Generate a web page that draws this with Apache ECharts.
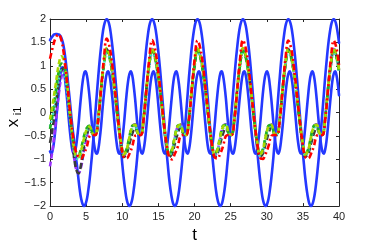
<!DOCTYPE html>
<html><head><meta charset="utf-8">
<script src="https://cdn.jsdelivr.net/npm/echarts@6/dist/echarts.min.js"></script>
<style>html,body{margin:0;padding:0;background:#fff}#c{width:374px;height:249px}</style>
</head><body><div id="c"></div>
<script>
// time samples (fine grid for the blue curves, coarse grid for the dashed curves)
const tFine = [0,0.2,0.39,0.59,0.79,0.98,1.18,1.37,1.57,1.77,1.96,2.16,2.36,2.55,2.75,2.95,3.14,3.34,3.53,3.73,3.93,4.12,4.32,4.52,4.71,4.91,5.11,5.3,5.5,5.69,5.89,6.09,
6.28,6.48,6.68,6.87,7.07,7.26,7.46,7.66,7.85,8.05,8.25,8.44,8.64,8.84,9.03,9.23,9.42,9.62,9.82,10.01,10.21,10.41,10.6,10.8,11,11.19,11.39,11.58,11.78,11.98,12.17,12.37,
12.57,12.76,12.96,13.16,13.35,13.55,13.74,13.94,14.14,14.33,14.53,14.73,14.92,15.12,15.32,15.51,15.71,15.9,16.1,16.3,16.49,16.69,16.89,17.08,17.28,17.48,17.67,17.87,18.06,18.26,18.46,18.65,
18.85,19.05,19.24,19.44,19.63,19.83,20.03,20.22,20.42,20.62,20.81,21.01,21.21,21.4,21.6,21.79,21.99,22.19,22.38,22.58,22.78,22.97,23.17,23.37,23.56,23.76,23.95,24.15,24.35,24.54,24.74,24.94,
25.13,25.33,25.53,25.72,25.92,26.11,26.31,26.51,26.7,26.9,27.1,27.29,27.49,27.69,27.88,28.08,28.27,28.47,28.67,28.86,29.06,29.26,29.45,29.65,29.85,30.04,30.24,30.43,30.63,30.83,31.02,31.22,
31.42,31.61,31.81,32.0,32.2,32.4,32.59,32.79,32.99,33.18,33.38,33.58,33.77,33.97,34.16,34.36,34.56,34.75,34.95,35.15,35.34,35.54,35.74,35.93,36.13,36.32,36.52,36.72,36.91,37.11,37.31,37.5,
37.7,37.9,38.09,38.29,38.48,38.68,38.88,39.07,39.27,39.47,39.66,39.86,40];

const tCoarse = [0,0.39,0.79,1.18,1.57,1.96,2.36,2.75,3.14,3.53,3.93,4.32,4.71,5.11,5.5,5.89,
6.28,6.68,7.07,7.46,7.85,8.25,8.64,9.03,9.42,9.82,10.21,10.6,11,11.39,11.78,12.17,
12.57,12.96,13.35,13.74,14.14,14.53,14.92,15.32,15.71,16.1,16.49,16.89,17.28,17.67,18.06,18.46,
18.85,19.24,19.63,20.03,20.42,20.81,21.21,21.6,21.99,22.38,22.78,23.17,23.56,23.95,24.35,24.74,
25.13,25.53,25.92,26.31,26.7,27.1,27.49,27.88,28.27,28.67,29.06,29.45,29.85,30.24,30.63,31.02,
31.42,31.81,32.2,32.59,32.99,33.38,33.77,34.16,34.56,34.95,35.34,35.74,36.13,36.52,36.91,37.31,
37.7,38.09,38.48,38.88,39.27,39.66,40];

// solid blue curves
const blueA = [1.55,1.6,1.64,1.67,1.68,1.68,1.67,1.65,1.6,1.5,1.35,1.12,0.85,0.55,0.25,-0.08,-0.36,-0.62,-0.88,-1.13,-1.41,-1.66,-1.85,-1.96,-2,-1.96,-1.85,-1.66,-1.41,-1.11,-0.77,-0.39,
0,0.39,0.77,1.11,1.41,1.66,1.85,1.96,2,1.96,1.85,1.66,1.41,1.11,0.77,0.39,0,-0.39,-0.77,-1.11,-1.41,-1.66,-1.85,-1.96,-2,-1.96,-1.85,-1.66,-1.41,-1.11,-0.77,-0.39,
0,0.39,0.77,1.11,1.41,1.66,1.85,1.96,2,1.96,1.85,1.66,1.41,1.11,0.77,0.39,0,-0.39,-0.77,-1.11,-1.41,-1.66,-1.85,-1.96,-2,-1.96,-1.85,-1.66,-1.41,-1.11,-0.77,-0.39,
0,0.39,0.77,1.11,1.41,1.66,1.85,1.96,2,1.96,1.85,1.66,1.41,1.11,0.77,0.39,0,-0.39,-0.77,-1.11,-1.41,-1.66,-1.85,-1.96,-2,-1.96,-1.85,-1.66,-1.41,-1.11,-0.77,-0.39,
0,0.39,0.77,1.11,1.41,1.66,1.85,1.96,2,1.96,1.85,1.66,1.41,1.11,0.77,0.39,0,-0.39,-0.77,-1.11,-1.41,-1.66,-1.85,-1.96,-2,-1.96,-1.85,-1.66,-1.41,-1.11,-0.77,-0.39,
0,0.39,0.77,1.11,1.41,1.66,1.85,1.96,2,1.96,1.85,1.66,1.41,1.11,0.77,0.39,0,-0.39,-0.77,-1.11,-1.41,-1.66,-1.85,-1.96,-2,-1.96,-1.85,-1.66,-1.41,-1.11,-0.77,-0.39,
0,0.39,0.77,1.11,1.41,1.66,1.85,1.96,2,1.96,1.85,1.66,1.49];

const blueB = [-0.83,-0.88,-0.79,-0.58,-0.29,0.06,0.39,0.7,0.95,0.97,0.84,0.6,0.29,-0.06,-0.39,-0.66,
-0.83,-0.88,-0.79,-0.58,-0.29,0.06,0.39,0.66,0.83,0.88,0.79,0.58,0.29,-0.06,-0.39,-0.66,
-0.83,-0.88,-0.79,-0.58,-0.29,0.06,0.39,0.66,0.83,0.88,0.79,0.58,0.29,-0.06,-0.39,-0.66,
-0.83,-0.88,-0.79,-0.58,-0.29,0.06,0.39,0.66,0.83,0.88,0.79,0.58,0.29,-0.06,-0.39,-0.66,
-0.83,-0.88,-0.79,-0.58,-0.29,0.06,0.39,0.66,0.83,0.88,0.79,0.58,0.29,-0.06,-0.39,-0.66,
-0.83,-0.88,-0.79,-0.58,-0.29,0.06,0.39,0.66,0.83,0.88,0.79,0.58,0.29,-0.06,-0.39,-0.66,
-0.83,-0.88,-0.79,-0.58,-0.29,0.06,0.39,0.66,0.83,0.88,0.79,0.58,0.29,-0.06,-0.39,-0.66,
-0.83,-0.88,-0.79,-0.58,-0.29,0.06,0.39,0.66,0.83,0.88,0.79,0.58,0.29,-0.06,-0.39,-0.66,
-0.83,-0.88,-0.79,-0.58,-0.29,0.06,0.39,0.66,0.83,0.88,0.79,0.58,0.29,-0.06,-0.39,-0.66,
-0.83,-0.88,-0.79,-0.58,-0.29,0.06,0.39,0.66,0.83,0.88,0.79,0.58,0.29,-0.06,-0.39,-0.66,
-0.83,-0.88,-0.79,-0.58,-0.29,0.06,0.39,0.66,0.83,0.88,0.79,0.58,0.29,-0.06,-0.39,-0.66,
-0.83,-0.88,-0.79,-0.58,-0.29,0.06,0.39,0.66,0.83,0.88,0.79,0.58,0.29,-0.06,-0.39,-0.66,
-0.83,-0.88,-0.79,-0.58,-0.29,0.06,0.39,0.66,0.83,0.88,0.79,0.58,0.37];

// dashed follower curves
const dRed = [1.15,1.4,1.6,1.67,1.55,1.2,0.65,0.05,-0.45,-0.8,-0.95,-0.98,-0.88,-0.72,-0.5,-0.48,-0.48,-0.15,0.5,1.15,
1.58,1.4,0.98,0.42,-0.15,-0.65,-0.95,-0.98,-0.88,-0.72,-0.5,-0.48,-0.48,-0.15,0.5,1.15,
1.55,1.37,0.96,0.4,-0.15,-0.65,-0.95,-1.0,-0.88,-0.74,-0.5,-0.48,-0.48,-0.15,0.5,1.15,
1.54,1.37,0.96,0.4,-0.15,-0.65,-0.95,-0.98,-0.88,-0.72,-0.5,-0.48,-0.48,-0.15,0.5,1.15,
1.55,1.37,0.96,0.4,-0.15,-0.65,-0.96,-0.99,-0.88,-0.72,-0.5,-0.48,-0.48,-0.15,0.5,1.15,
1.54,1.37,0.96,0.4,-0.15,-0.65,-0.95,-0.98,-0.88,-0.72,-0.5,-0.48,-0.48,-0.15,0.5,1.15,
1.54,1.37,1.02];
const dYellowGreen = [-0.15,0.2,0.6,1.0,1.2,1.1,0.65,0.0,-0.55,-0.9,-0.95,-0.8,-0.55,-0.35,-0.3,-0.45,-0.48,-0.1,0.52,1.07,
1.38,1.22,0.86,0.38,-0.18,-0.62,-0.9,-0.8,-0.52,-0.3,-0.26,-0.44,-0.48,-0.1,0.52,1.07,
1.38,1.22,0.86,0.38,-0.18,-0.62,-0.9,-0.8,-0.52,-0.3,-0.26,-0.44,-0.48,-0.1,0.52,1.07,
1.37,1.22,0.86,0.38,-0.18,-0.62,-0.9,-0.8,-0.52,-0.3,-0.26,-0.44,-0.48,-0.1,0.52,1.07,
1.38,1.22,0.86,0.38,-0.18,-0.62,-0.9,-0.8,-0.52,-0.3,-0.26,-0.44,-0.48,-0.1,0.52,1.07,
1.37,1.22,0.86,0.38,-0.18,-0.62,-0.9,-0.8,-0.52,-0.3,-0.26,-0.44,-0.48,-0.1,0.52,1.07,
1.38,1.22,0.92];
const dGreen = [-0.35,0.0,0.45,0.85,1.05,1.0,0.6,0.0,-0.55,-0.85,-0.9,-0.75,-0.5,-0.32,-0.28,-0.44,-0.46,-0.1,0.5,1.02,
1.32,1.17,0.82,0.36,-0.18,-0.62,-0.88,-0.78,-0.5,-0.28,-0.26,-0.44,-0.46,-0.1,0.5,1.02,
1.32,1.17,0.82,0.36,-0.18,-0.62,-0.88,-0.78,-0.5,-0.28,-0.26,-0.44,-0.46,-0.1,0.5,1.02,
1.32,1.17,0.82,0.36,-0.18,-0.62,-0.88,-0.78,-0.5,-0.28,-0.26,-0.44,-0.46,-0.1,0.5,1.02,
1.32,1.17,0.82,0.36,-0.18,-0.62,-0.88,-0.78,-0.5,-0.28,-0.26,-0.44,-0.46,-0.1,0.5,1.02,
1.32,1.17,0.82,0.36,-0.18,-0.62,-0.88,-0.78,-0.5,-0.28,-0.26,-0.44,-0.46,-0.1,0.5,1.02,
1.32,1.17,0.88];
const dCyan = [-0.3,-0.05,0.35,0.7,0.9,0.85,0.45,-0.1,-0.6,-0.95,-1.0,-0.85,-0.6,-0.4,-0.3,-0.44,-0.46,-0.1,0.48,1.0,
1.3,1.15,0.8,0.34,-0.2,-0.66,-0.92,-0.82,-0.56,-0.34,-0.28,-0.44,-0.46,-0.1,0.48,1.0,
1.3,1.15,0.8,0.34,-0.2,-0.66,-0.92,-0.82,-0.56,-0.34,-0.28,-0.44,-0.46,-0.1,0.48,1.0,
1.3,1.15,0.8,0.34,-0.2,-0.66,-0.92,-0.82,-0.56,-0.34,-0.28,-0.44,-0.46,-0.1,0.48,1.0,
1.3,1.15,0.8,0.34,-0.2,-0.66,-0.92,-0.82,-0.56,-0.34,-0.28,-0.44,-0.46,-0.1,0.48,1.0,
1.3,1.15,0.8,0.34,-0.2,-0.66,-0.92,-0.82,-0.56,-0.34,-0.28,-0.44,-0.46,-0.1,0.48,1.0,
1.3,1.15,0.86];
const dBlack = [-0.65,-0.3,0.15,0.6,0.9,0.95,0.6,0.0,-0.65,-1.15,-1.3,-1.1,-0.7,-0.45,-0.35,-0.45,-0.48,-0.12,0.5,1.03,
1.35,1.2,0.84,0.36,-0.2,-0.68,-0.95,-0.88,-0.66,-0.45,-0.32,-0.45,-0.48,-0.12,0.5,1.03,
1.35,1.2,0.84,0.36,-0.2,-0.68,-0.95,-0.88,-0.66,-0.45,-0.32,-0.45,-0.48,-0.12,0.5,1.03,
1.35,1.2,0.84,0.36,-0.2,-0.68,-0.95,-0.88,-0.66,-0.45,-0.32,-0.45,-0.48,-0.12,0.5,1.03,
1.35,1.2,0.84,0.36,-0.2,-0.68,-0.95,-0.88,-0.66,-0.45,-0.32,-0.45,-0.48,-0.12,0.5,1.03,
1.35,1.2,0.84,0.36,-0.2,-0.68,-0.95,-0.88,-0.66,-0.45,-0.32,-0.45,-0.48,-0.12,0.5,1.03,
1.35,1.2,0.9];
const dPurple = [-1.15,-0.75,-0.2,0.35,0.75,0.9,0.65,0.05,-0.65,-1.15,-1.3,-1.15,-0.8,-0.5,-0.3,-0.44,-0.48,-0.1,0.52,1.05,
1.36,1.21,0.85,0.37,-0.19,-0.66,-0.93,-0.82,-0.55,-0.3,-0.25,-0.44,-0.48,-0.1,0.52,1.05,
1.36,1.21,0.85,0.37,-0.19,-0.66,-0.93,-0.82,-0.55,-0.3,-0.25,-0.44,-0.48,-0.1,0.52,1.05,
1.36,1.21,0.85,0.37,-0.19,-0.66,-0.93,-0.82,-0.55,-0.3,-0.25,-0.44,-0.48,-0.1,0.52,1.05,
1.36,1.21,0.85,0.37,-0.19,-0.66,-0.93,-0.82,-0.55,-0.3,-0.25,-0.44,-0.48,-0.1,0.52,1.05,
1.36,1.21,0.85,0.37,-0.19,-0.66,-0.93,-0.82,-0.55,-0.3,-0.25,-0.44,-0.48,-0.1,0.52,1.05,
1.36,1.21,0.91];

const xTickStep = 5;
const yTickStep = 0.5;

function pairs(t, y) { return t.map((v, i) => [v, y[i]]); }

const FONT = 'Liberation Sans, Arial, sans-serif';
const AX = '#262626';
const chart = echarts.init(document.getElementById('c'), null, {renderer: 'canvas'});

function solid(data, color) {
  return {type: 'line', data: data, showSymbol: false, symbol: 'none', smooth: 0.4,
    lineStyle: {color: color, width: 2.6, cap: 'round', join: 'round'}, silent: true, z: 2};
}
function dashed(data, color, dash) {
  return {type: 'line', data: data, showSymbol: false, symbol: 'none', smooth: 0.4,
    lineStyle: {color: color, width: 2.6, type: dash}, silent: true, z: 3};
}
const axisCommonX = {type: 'value', min: 0, max: 40, interval: xTickStep,
  axisLine: {show: true, onZero: false, lineStyle: {color: AX, width: 1}},
  axisTick: {show: true, inside: true, length: 3, lineStyle: {color: AX}},
  splitLine: {show: false}};
const axisCommonY = {type: 'value', min: -2, max: 2, interval: yTickStep,
  axisLine: {show: true, onZero: false, lineStyle: {color: AX, width: 1}},
  axisTick: {show: true, inside: true, length: 3, lineStyle: {color: AX}},
  splitLine: {show: false}};

chart.setOption({
  animation: false,
  backgroundColor: '#fff',
  grid: {left: 50, top: 19, width: 289, height: 202},
  xAxis: [
    Object.assign({}, axisCommonX, {position: 'bottom',
      axisLabel: {color: AX, fontSize: 11, margin: 5, fontFamily: FONT},
      name: 't', nameLocation: 'middle', nameGap: 14,
      nameTextStyle: {color: '#000', fontSize: 17, fontFamily: FONT}}),
    Object.assign({}, axisCommonX, {position: 'top', axisLabel: {show: false}})
  ],
  yAxis: [
    Object.assign({}, axisCommonY, {position: 'left',
      axisLabel: {color: AX, fontSize: 11, margin: 4, fontFamily: FONT,
        formatter: v => (v < 0 ? '\u2212' + Math.abs(v) : String(v))}}),
    Object.assign({}, axisCommonY, {position: 'right', axisLabel: {show: false}})
  ],
  graphic: [
    {type: 'text', x: 13, y: 123, rotation: Math.PI / 2,
      style: {text: 'x', font: '17px ' + FONT, fill: '#000', textAlign: 'center', textVerticalAlign: 'middle'}},
    {type: 'text', x: 18, y: 111, rotation: Math.PI / 2,
      style: {text: 'i1', font: '11px ' + FONT, fill: '#000', textAlign: 'center', textVerticalAlign: 'middle'}}
  ],
  series: [
    solid(pairs(tFine, blueA), '#2438ff'),
    solid(pairs(tFine, blueB), '#2438ff'),
    dashed(pairs(tCoarse, dPurple), '#9b30ff', [5, 3]),
    dashed(pairs(tCoarse, dBlack), '#3a3a3a', [6, 3]),
    dashed(pairs(tCoarse, dCyan), '#40e0c0', [2, 2]),
    dashed(pairs(tCoarse, dGreen), '#22b022', [5, 4]),
    dashed(pairs(tCoarse, dYellowGreen), '#a8d800', [5, 3]),
    dashed(pairs(tCoarse, dRed), '#ff0000', [6, 3, 2, 3])
  ]
});
</script>
</body></html>
